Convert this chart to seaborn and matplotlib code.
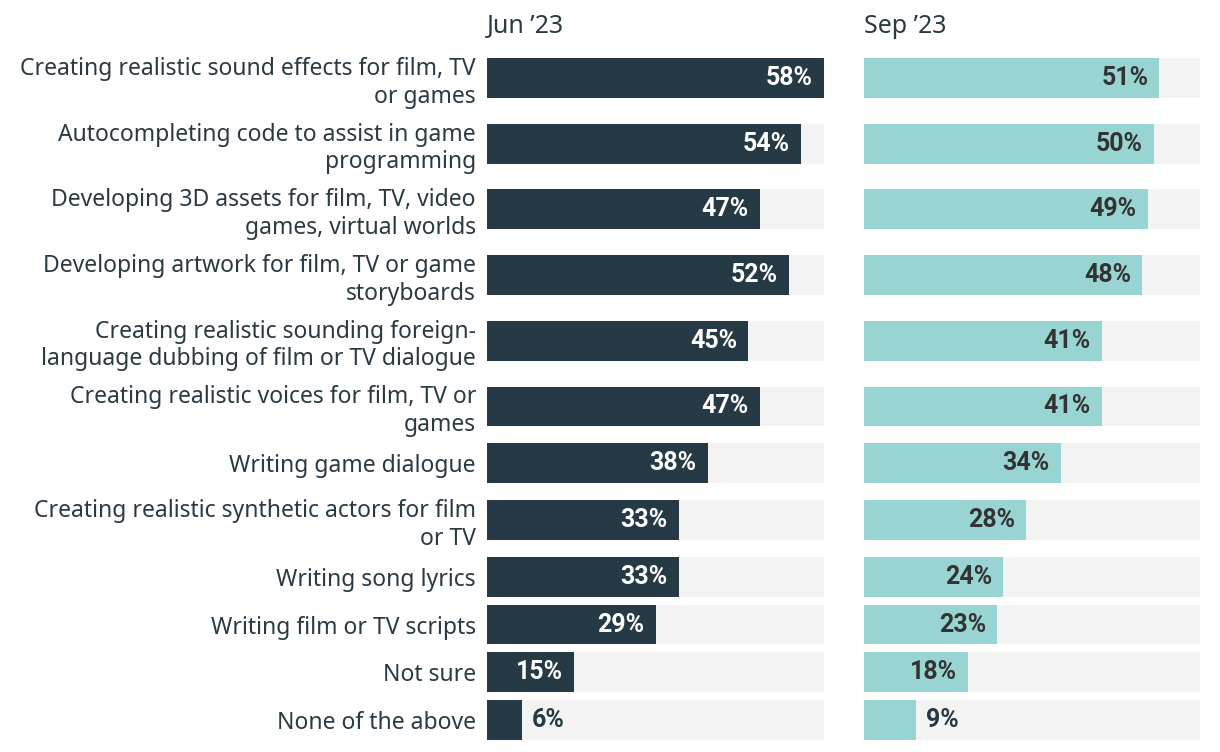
import numpy as np
import pandas as pd
import matplotlib.pyplot as plt
import seaborn as sns

categories = [
    "Creating realistic sound effects for film, TV\nor games",
    "Autocompleting code to assist in game\nprogramming",
    "Developing 3D assets for film, TV, video\ngames, virtual worlds",
    "Developing artwork for film, TV or game\nstoryboards",
    "Creating realistic sounding foreign-\nlanguage dubbing of film or TV dialogue",
    "Creating realistic voices for film, TV or\ngames",
    "Writing game dialogue",
    "Creating realistic synthetic actors for film\nor TV",
    "Writing song lyrics",
    "Writing film or TV scripts",
    "Not sure",
    "None of the above",
]
jun = [58, 54, 47, 52, 45, 47, 38, 33, 33, 29, 15, 6]
sep = [51, 50, 49, 48, 41, 41, 34, 28, 24, 23, 18, 9]
titles = ["Jun \u201923", "Sep \u201923"]

sns.set_theme(style="white")
plt.rcParams["font.family"] = ["Noto Sans", "DejaVu Sans"]

text_col = "#2a3a42"
dark = "#253a44"
teal = "#98d5d2"
grey = "#f3f3f3"

# row pitch depends on how many lines the label takes
heights = [66 if "\n" in c else 48 for c in categories]
pos = [0.0]
for a, b in zip(heights[:-1], heights[1:]):
    pos.append(pos[-1] + (a + b) / 2)
pos = np.array(pos)
scale_max = max(jun)

df = pd.DataFrame({"pos": pos, "jun": jun, "sep": sep, "bg": scale_max})

fig = plt.figure(figsize=(12.2, 7.52), dpi=100)
W, H = 1220, 752
ax1 = fig.add_axes([487 / W, 1 - 740 / H, 337 / W, 682 / H])
ax2 = fig.add_axes([864 / W, 1 - 740 / H, 336 / W, 682 / H])

bar_w = 40 / 48
for ax, col, color, lab_col, title in [
    (ax1, "jun", dark, "white", titles[0]),
    (ax2, "sep", teal, "#333333", titles[1]),
]:
    sns.barplot(data=df, x="bg", y="pos", orient="y", native_scale=True,
                color=grey, width=bar_w, saturation=1, linewidth=0, ax=ax)
    sns.barplot(data=df, x=col, y="pos", orient="y", native_scale=True,
                color=color, width=bar_w, saturation=1, linewidth=0, ax=ax)
    for p, v in zip(df["pos"], df[col]):
        if v >= 12:
            ax.annotate(f"{v}%", (v, p), xytext=(-8, 0), textcoords="offset points",
                        ha="right", va="center", fontsize=18, fontweight="bold",
                        family=["Roboto", "DejaVu Sans"], color=lab_col)
        else:
            ax.annotate(f"{v}%", (v, p), xytext=(7, 0), textcoords="offset points",
                        ha="left", va="center", fontsize=18, fontweight="bold",
                        family=["Roboto", "DejaVu Sans"], color=dark)
    ax.set_xlim(0, scale_max)
    ax.set_ylim(pos[-1] + 20, pos[0] - 20)
    ax.set_xticks([])
    ax.set_xlabel("")
    ax.set_ylabel("")
    ax.set_title(title, loc="left", fontsize=18, color=text_col, pad=18)
    sns.despine(ax=ax, left=True, bottom=True)

ax1.set_yticks(pos)
ax1.set_yticklabels(categories, fontsize=16.5, color=text_col, linespacing=1.2)
ax1.tick_params(axis="y", length=0, pad=8)
ax2.set_yticks([])

fig.savefig("out.png", dpi=100)
